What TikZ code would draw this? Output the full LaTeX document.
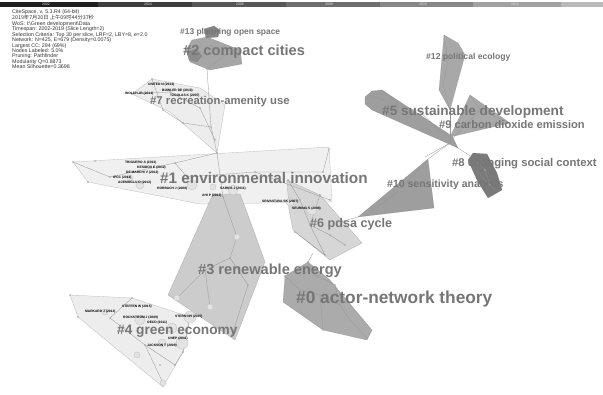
\documentclass[tikz,border=0pt]{standalone}
\usepackage{fontspec}
\setmainfont{Liberation Sans}
\newfontfamily\cjkfont{Noto Sans CJK SC}
\usetikzlibrary{calc}

\definecolor{labgray}{RGB}{118,118,118}
\definecolor{linkgray}{RGB}{150,150,150}
\newcommand{\lbsize}[1]{\fontsize{#1}{#1}\selectfont}

\tikzset{
  clab/.style={anchor=west, inner sep=0pt, text=labgray, font=\bfseries},
  alab/.style={anchor=west, inner sep=0pt, text=black, font=\lbsize{3.3}\bfseries},
  hull/.style={fill=black!#1, draw=black!55, draw opacity=0.45, line width=0.3pt, line join=round},
  link/.style={draw=linkgray, line width=0.3pt},
  dotc/.style={fill=gray!70},
  halo/.style={fill=gray!22, draw=gray!45, line width=0.4pt},
  slice/.style={anchor=center, inner sep=0pt, text=white!75!gray, font=\lbsize{3.5}}
}

\begin{document}
\begin{tikzpicture}[x=1pt,y=-1pt]
\useasboundingbox[fill=white] (0,0) rectangle (603,394);

\fill[black!88] (0,2) rectangle (98,7);
\fill[black!76] (98,2) rectangle (192,7);
\fill[black!66] (192,2) rectangle (286,7);
\fill[black!57] (286,2) rectangle (380,7);
\fill[black!47] (380,2) rectangle (473,7);
\fill[black!37] (473,2) rectangle (561,7);
\fill[black!27] (561,2) rectangle (603,7);
\node[slice] (y02) at (46,4.5) {2002};
\node[slice] (y04) at (148,4.5) {2004};
\node[slice] (y06) at (240,4.5) {2006};
\node[slice] (y08) at (329,4.5) {2008};
\node[slice] (y10) at (423,4.5) {2010};
\node[slice] (y12) at (515,4.5) {2012};

\node[anchor=north west, inner sep=0pt, align=left, text=black!80, font=\lbsize{5.3}] (info) at (12,9)
  {CiteSpace, v. 5.3.R4 (64-bit)\\[0.15pt]
   {\cjkfont 2019年7月20日 上午09时44分37秒}\\[0.15pt]
   WoS: I:\textbackslash Green development\textbackslash Data\\[0.15pt]
   Timespan: 2002-2019 (Slice Length=2)\\[0.15pt]
   Selection Criteria: Top 30 per slice, LRF=2, LBY=8, e=2.0\\[0.15pt]
   Network: N=425, E=679 (Density=0.0075)\\[0.15pt]
   Largest CC: 294 (69\%)\\[0.15pt]
   Nodes Labeled: 5.0\%\\[0.15pt]
   Pruning: Pathfinder\\[0.15pt]
   Modularity Q=0.8873\\[0.15pt]
   Mean Silhouette=0.3698};

\path[hull=6] (73,162) -- (329,147) -- (332,202) -- (200,204) -- (88,182) -- cycle;
\path[hull=7] (132,94) -- (152,79) -- (200,88) -- (225,105) -- (217,153) -- (170,112) -- cycle;
\path[hull=7] (70,295) -- (132,298) -- (190,317) -- (183,352) -- (163,387) -- (78,317) -- cycle;
\path[hull=20] (213,194) -- (240,194) -- (248,215) -- (265,262) -- (235,340) -- (168,295) -- cycle;
\path[hull=16] (287,180) -- (320,195) -- (362,243) -- (330,260) -- (293,230) -- (289,210) -- cycle;
\path[hull=33] (308,262) -- (285,276) -- (283,302) -- (323,330) -- (367,340) -- (372,330) -- (330,280) -- cycle;
\path[hull=35] (192,40) -- (207,37) -- (240,50) -- (242,64) -- (210,70) -- (190,62) -- (186,50) -- cycle;
\path[hull=48] (204,29) -- (214,26) -- (220,30) -- (218,37) -- (206,38) -- cycle;
\path[hull=45] (187,52) -- (196,49) -- (202,56) -- (197,62) -- (189,60) -- cycle;
\path[hull=34] (444,35) -- (458,43) -- (465,55) -- (450,110) -- (439,90) -- cycle;
\path[hull=38] (365,97) -- (372,91) -- (382,90) -- (452,136) -- (458,148) -- (372,110) -- (365,104) -- cycle;
\path[hull=34] (470,95) -- (510,123) -- (450,137) -- cycle;
\path[hull=52] (468,160) -- (473,153) -- (487,154) -- (497,173) -- (502,190) -- (488,198) -- (477,180) -- cycle;
\path[hull=38] (428,159) -- (434,208) -- (358,217) -- cycle;

\coordinate (n2) at (207,69);
\coordinate (n7) at (211,127);
\coordinate (n1) at (217,153);
\coordinate (n3) at (223,197);
\coordinate (n6) at (313,253);
\coordinate (n0) at (308,262);
\coordinate (n6r) at (340,222);
\coordinate (n10) at (358,217);
\coordinate (n10t) at (428,159);
\coordinate (n5) at (450,143);
\coordinate (n8) at (472,157);
\coordinate (n9) at (455,136);
\coordinate (n12) at (450,110);
\draw[link] (n2) -- (n7) -- (n1) -- (n3);
\draw[link] (n6) -- (n0);
\draw[link] (n6r) -- (n10);
\draw[link] (n10t) -- (n5) -- (n8);
\draw[link] (n9) -- (n5);
\draw[link] (n12) -- (n5);
\draw[link] (n5) -- (425,157);

\draw[link] (73,162) -- (110,177) -- (175,163) -- (217,153);
\draw[link] (175,163) -- (187,177) -- (255,172) -- (323,172) -- (329,149);
\draw[link] (255,172) -- (330,200);
\draw[link] (152,79) -- (163,110) -- (183,123) -- (211,127);
\draw[link] (132,94) -- (170,92) -- (200,108) -- (215,140);
\draw[link] (223,197) -- (237,237) -- (230,258) -- (248,285) -- (232,335);
\draw[link] (230,258) -- (205,270) -- (177,298);
\draw[link] (205,270) -- (210,307);
\draw[link] (132,298) -- (110,318) -- (145,345) -- (163,383);
\draw[link] (145,345) -- (175,365) -- (183,352) -- (190,317);
\draw[link] (288,180) -- (300,200) -- (310,225) -- (330,235) -- (345,245);
\draw[link] (310,225) -- (325,255) -- (295,232);
\draw[link] (320,195) -- (310,225);
\draw[link] (285,276) -- (300,290) -- (320,295) -- (340,305) -- (350,320) -- (367,338);
\draw[link] (308,262) -- (315,275) -- (335,285) -- (340,305);
\draw[link] (320,295) -- (323,330);
\draw[link] (382,90) -- (400,105) -- (420,112) -- (445,135);
\draw[link] (368,95) -- (400,105);
\draw[link] (444,35) -- (448,60) -- (443,85) -- (450,110);
\draw[link] (470,95) -- (480,110) -- (455,136);
\draw[link] (480,110) -- (510,123);
\draw[link] (428,159) -- (400,190) -- (370,212);
\draw[link] (475,160) -- (485,170) -- (490,185) -- (480,175) -- (495,190);
\draw[link] (210,45) -- (225,55) -- (207,69);
\draw[link] (192,52) -- (225,55) -- (240,52);

\path[halo] (140,185) circle (4) (192,185) circle (5) (233,190) circle (5)
  (213,187) circle (3) (290,202) circle (4) (312,210) circle (5)
  (140,320) circle (5) (172,328) circle (5) (190,317) circle (6)
  (137,355) circle (3) (162,343) circle (4) (182,343) circle (6)
  (163,383) circle (3) (177,298) circle (3) (210,307) circle (3)
  (237,237) circle (3) (105,312) circle (3) (130,178) circle (3);
\path[dotc] (73,162) circle (0.9) (95,161) circle (0.9) (88,182) circle (0.9)
  (110,177) circle (0.9) (175,163) circle (0.9) (187,177) circle (0.9)
  (255,172) circle (0.9) (323,172) circle (0.9) (329,149) circle (0.9)
  (330,200) circle (0.9) (217,153) circle (0.9) (211,127) circle (0.9)
  (152,79) circle (0.9) (132,94) circle (0.9) (163,110) circle (0.9)
  (183,123) circle (0.9) (200,108) circle (0.9) (215,140) circle (0.9)
  (170,92) circle (0.9) (223,197) circle (0.9) (230,258) circle (0.9)
  (248,285) circle (0.9) (205,270) circle (0.9) (232,335) circle (0.9)
  (70,295) circle (0.9) (132,298) circle (0.9) (78,317) circle (0.9)
  (110,318) circle (0.9) (145,345) circle (0.9) (175,365) circle (0.9)
  (183,352) circle (0.9) (160,365) circle (0.9) (288,180) circle (0.9)
  (300,200) circle (0.9) (320,195) circle (0.9) (310,225) circle (0.9)
  (330,235) circle (0.9) (345,245) circle (0.9) (325,255) circle (0.9)
  (295,232) circle (0.9) (308,262) circle (0.9) (285,276) circle (0.9)
  (300,290) circle (0.9) (320,295) circle (0.9) (340,305) circle (0.9)
  (350,320) circle (0.9) (323,330) circle (0.9) (367,338) circle (0.9)
  (335,285) circle (0.9) (315,275) circle (0.9) (207,69) circle (0.9)
  (400,105) circle (0.9) (420,112) circle (0.9) (448,60) circle (0.9)
  (443,85) circle (0.9) (480,110) circle (0.9) (400,190) circle (0.9)
  (485,170) circle (0.9) (490,185) circle (0.9);

\node[alab] (unitedn) at (148,85) {UNITED N (2014)};
\node[alab] (bowler) at (162,90.5) {BOWLER DE (2010)};
\node[alab] (wolch) at (125,94) {WOLCH JR (2014)};
\node[alab] (tzoulas) at (170,95.2) {TZOULAS K (2007)};
\node[alab] (triguero) at (125,163) {TRIGUERO A (2013)};
\node[alab] (kesidou) at (137,167.5) {KESIDOU E (2012)};
\node[alab] (demarchi) at (126,172.5) {DE MARCHI V (2012)};
\node[alab] (ipcc) at (113,178) {IPCC (2014)};
\node[alab] (acemoglu) at (118,183) {ACEMOGLU D (2012)};
\node[alab] (horbach) at (157,189) {HORBACH J (2008)};
\node[alab] (sarkis) at (220,189) {SARKIS J (2011)};
\node[alab] (ahi) at (202,196) {AHI P (2013)};
\node[alab] (srivastava) at (262,202) {SRIVASTAVA SK (2007)};
\node[alab] (seuring) at (292,209) {SEURING S (2008)};
\node[alab] (steffen) at (122,307) {STEFFEN W (2015)};
\node[alab] (markard) at (85,312) {MARKARD J (2012)};
\node[alab] (rockstrom) at (123,318) {ROCKSTROM J (2009)};
\node[alab] (oecd) at (147,323) {OECD (2011)};
\node[alab] (stern) at (175,317) {STERN NH (2007)};
\node[alab] (unep) at (168,339) {UNEP (2011)};
\node[alab] (jackson) at (147,346) {JACKSON T (2009)};

\node[clab, font=\lbsize{8.4}\bfseries] (cl13) at (180,32) {\#13 planning open space};
\node[clab, font=\lbsize{14.6}\bfseries] (cl2) at (183,52) {\#2 compact cities};
\node[clab, font=\lbsize{11.3}\bfseries] (cl7) at (150,102) {\#7 recreation-amenity use};
\node[clab, font=\lbsize{8.6}\bfseries] (cl12) at (426,57) {\#12 political ecology};
\node[clab, font=\lbsize{13.6}\bfseries] (cl5) at (382,112) {\#5 sustainable development};
\node[clab, font=\lbsize{11.1}\bfseries] (cl9) at (439,124.5) {\#9 carbon dioxide emission};
\node[clab, font=\lbsize{11.3}\bfseries] (cl8) at (452,164) {\#8 changing social context};
\node[clab, font=\lbsize{10.5}\bfseries] (cl10) at (387,185) {\#10 sensitivity analysis};
\node[clab, font=\lbsize{15.3}\bfseries] (cl1) at (160,178) {\#1 environmental innovation};
\node[clab, font=\lbsize{12.6}\bfseries] (cl6) at (310,224) {\#6 pdsa cycle};
\node[clab, font=\lbsize{14.6}\bfseries] (cl3) at (198,271) {\#3 renewable energy};
\node[clab, font=\lbsize{17.3}\bfseries] (cl0) at (296,299) {\#0 actor-network theory};
\node[clab, font=\lbsize{13.7}\bfseries] (cl4) at (117,331) {\#4 green economy};
\end{tikzpicture}
\end{document}
